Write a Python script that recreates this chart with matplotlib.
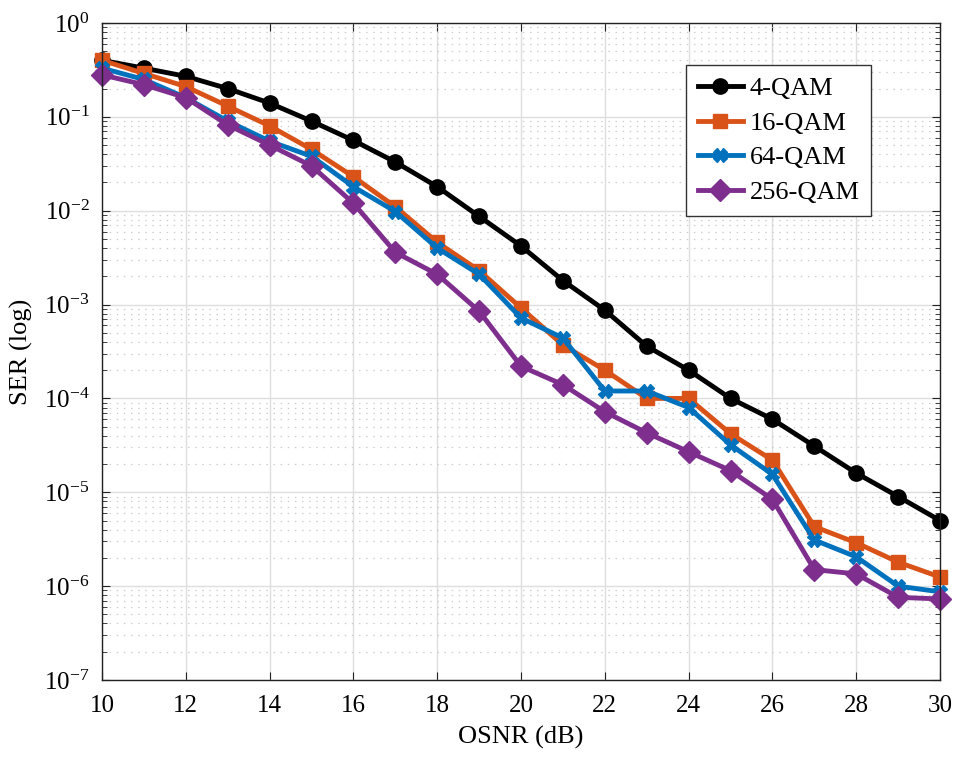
import numpy as np
import matplotlib
matplotlib.use("Agg")
import matplotlib.pyplot as plt
from matplotlib.ticker import LogLocator, NullFormatter

osnr = list(range(10, 31))

ser_4qam = [0.40, 0.33, 0.27, 0.20, 0.14, 0.090, 0.056, 0.033, 0.018, 0.0087,
            0.0042, 0.0018, 0.00087, 0.00036, 0.00020, 0.00010, 6.0e-5, 3.1e-5,
            1.6e-5, 9.0e-6, 5.0e-6]
ser_16qam = [0.40, 0.29, 0.21, 0.13, 0.080, 0.045, 0.023, 0.011, 0.0046, 0.0023,
             0.00092, 0.00037, 0.00020, 0.00010, 0.00010, 4.2e-5, 2.2e-5, 4.3e-6,
             2.9e-6, 1.8e-6, 1.25e-6]
ser_64qam = [0.33, 0.25, 0.16, 0.090, 0.055, 0.038, 0.018, 0.0098, 0.0040, 0.0021,
             0.00072, 0.00044, 0.00012, 0.00012, 8.0e-5, 3.2e-5, 1.55e-5, 3.1e-6,
             2.05e-6, 1.0e-6, 8.7e-7]
ser_256qam = [0.28, 0.22, 0.16, 0.082, 0.050, 0.030, 0.012, 0.0036, 0.0021, 0.00085,
              0.00022, 0.00014, 7.2e-5, 4.3e-5, 2.7e-5, 1.7e-5, 8.4e-6, 1.5e-6,
              1.35e-6, 7.6e-7, 7.3e-7]

labels = ["4-QAM", "16-QAM", "64-QAM", "256-QAM"]

plt.rcParams["font.family"] = ["Liberation Serif", "DejaVu Serif"]
plt.rcParams["mathtext.fontset"] = "stix"

fig = plt.figure(figsize=(9.57, 7.58), dpi=100)
ax = fig.add_axes([0.1066, 0.1029, 0.8757, 0.8668])

# colour, marker, size (MATLAB default palette)
styles = [
    ("black", "o", 11),
    ("#D95319", "s", 10),
    ("#0072BD", "X", 10),
    ("#7E2F8E", "D", 11),
]
for ser, label, (color, marker, ms) in zip(
        [ser_4qam, ser_16qam, ser_64qam, ser_256qam], labels, styles):
    ax.semilogy(osnr, ser, color=color, marker=marker, markersize=ms,
                linewidth=3.5, label=label, clip_on=False, zorder=3)

ax.set_xlim(10, 30)
ax.set_ylim(1e-7, 1)
ax.set_xticks(range(10, 31, 2))
ax.yaxis.set_major_locator(LogLocator(base=10, numticks=10))
ax.yaxis.set_minor_locator(LogLocator(base=10, subs=np.arange(2, 10), numticks=100))
ax.yaxis.set_minor_formatter(NullFormatter())

ax.grid(True, which="major", color="#dedede", linewidth=1.0, linestyle="-")
ax.grid(True, which="minor", axis="y", color="#cdcdcd", linewidth=0.9,
        linestyle=(0, (1.2, 4.5)))
ax.set_axisbelow(True)

ax.tick_params(which="both", direction="in", top=True, right=True, labelsize=18,
               color="#222222")
ax.tick_params(which="major", length=6)
ax.tick_params(which="minor", length=3.5)
ax.tick_params(axis="x", pad=11)
ax.tick_params(axis="y", pad=9)
for s in ax.spines.values():
    s.set_linewidth(1.0)
    s.set_color("#222222")
    s.set_zorder(5)

ax.set_xlabel("OSNR (dB)", fontsize=19, labelpad=6)
ax.set_ylabel("SER (log)", fontsize=19, labelpad=8)

leg = ax.legend(loc="upper right", bbox_to_anchor=(0.918, 0.936), fontsize=19,
                fancybox=False, framealpha=1, edgecolor="#333333",
                handlelength=1.7, borderpad=0.45, labelspacing=0.42,
                handletextpad=0.25, borderaxespad=0)
leg.get_frame().set_linewidth(1.0)

fig.savefig("out.png", dpi=100)
